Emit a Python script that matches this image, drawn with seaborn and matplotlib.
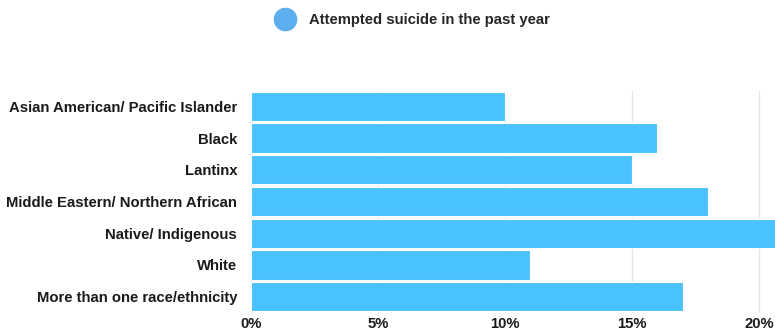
import numpy as np
import pandas as pd
import matplotlib.pyplot as plt
from matplotlib.ticker import FuncFormatter
import seaborn as sns

groups = ["Asian American/ Pacific Islander", "Black", "Lantinx",
          "Middle Eastern/ Northern African", "Native/ Indigenous", "White",
          "More than one race/ethnicity"]
attempted = [10, 16, 15, 18, 21, 11, 17]
series_name = "Attempted suicide in the past year"

sns.set_style("white")
plt.rcParams['font.family'] = ['Liberation Sans', 'DejaVu Sans']

df = pd.DataFrame({"group": groups, "value": attempted})

fig = plt.figure(figsize=(7.75, 3.32), dpi=100)
ax = fig.add_axes([251 / 775, 1 - 312.5 / 332, 1 - 251 / 775, 222 / 332])

sns.barplot(data=df, y="group", x="value", color="#49C2FF", saturation=1,
            width=0.92, edgecolor="white", linewidth=0.8, ax=ax, zorder=2)

ax.set_xlim(0, (775 - 251) / 25.4)
ax.set_ylim(6.5, -0.5)
ax.set_xticks([0, 5, 10, 15, 20])
ax.xaxis.set_major_formatter(FuncFormatter(lambda v, p: f"{v:.0f}%"))
ax.grid(axis="x", color="#e6e6e6", linewidth=1, zorder=0)
ax.set_axisbelow(True)
sns.despine(ax=ax, left=True, bottom=True, right=True, top=True)
ax.set_xlabel("")
ax.set_ylabel("")
ax.tick_params(axis="both", length=0, labelsize=10.7, colors="#1a1a1a")
ax.tick_params(axis="y", pad=10)
ax.tick_params(axis="x", pad=3)
for lab in ax.get_yticklabels() + ax.get_xticklabels():
    lab.set_fontweight("bold")

# legend
fig.legend(handles=[plt.Line2D([], [], marker="o", linestyle="", markersize=16,
                               markerfacecolor="#5DAEEE", markeredgecolor="#5DAEEE")],
           labels=[series_name], loc="center", bbox_to_anchor=(410 / 775, 1 - 20 / 332),
           frameon=False, prop={"weight": "bold", "size": 10.7}, handletextpad=0.6)

fig.savefig("out.png", dpi=100)
